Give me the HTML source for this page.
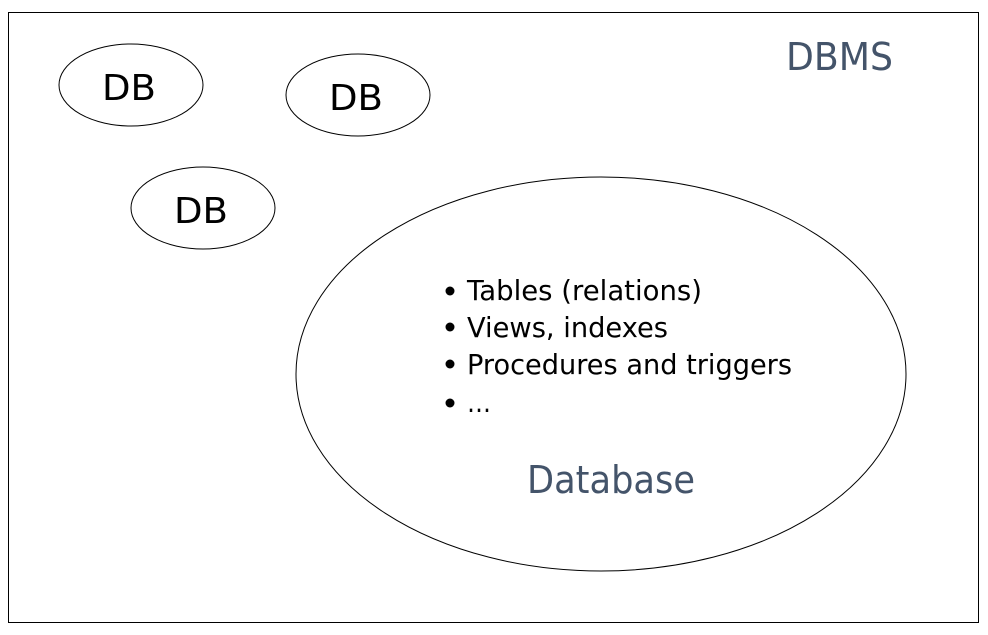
<!DOCTYPE html>
<html><head><style>html,body{margin:0;padding:0;background:#fff;}svg{display:block}</style></head>
<body>
<svg width="988" height="635" viewBox="0 0 988 635" xmlns="http://www.w3.org/2000/svg" font-family="'DejaVu Sans','Liberation Sans',sans-serif">
<rect x="8.5" y="12.5" width="970" height="610" fill="#fff" stroke="#000" stroke-width="1"/>
<g fill="#fff" stroke="#000" stroke-width="1">
<ellipse cx="131" cy="85" rx="72" ry="41"/>
<ellipse cx="358" cy="95" rx="72" ry="41"/>
<ellipse cx="203" cy="208" rx="72" ry="41"/>
<ellipse cx="601" cy="374" rx="305" ry="197"/>
</g>
<g font-size="36" fill="#000">
<text x="102" y="100" textLength="54" lengthAdjust="spacingAndGlyphs">DB</text>
<text x="329" y="110" textLength="54" lengthAdjust="spacingAndGlyphs">DB</text>
<text x="174" y="223" textLength="54" lengthAdjust="spacingAndGlyphs">DB</text>
</g>
<text x="786" y="70" font-size="38" fill="#44546a" textLength="107" lengthAdjust="spacingAndGlyphs">DBMS</text>
<text x="527" y="493" font-size="38" fill="#44546a" textLength="168" lengthAdjust="spacingAndGlyphs">Database</text>
<g font-size="28" fill="#000">
<circle cx="450" cy="291" r="4.5"/><text x="467" y="300" textLength="235" lengthAdjust="spacingAndGlyphs">Tables (relations)</text>
<circle cx="450" cy="327" r="4.5"/><text x="467" y="337" textLength="201" lengthAdjust="spacingAndGlyphs">Views, indexes</text>
<circle cx="450" cy="364" r="4.5"/><text x="467" y="374" textLength="325" lengthAdjust="spacingAndGlyphs">Procedures and triggers</text>
<circle cx="450" cy="403" r="4.5"/><text x="467" y="412" textLength="24" lengthAdjust="spacingAndGlyphs">…</text>
</g>
</svg>
</body></html>
